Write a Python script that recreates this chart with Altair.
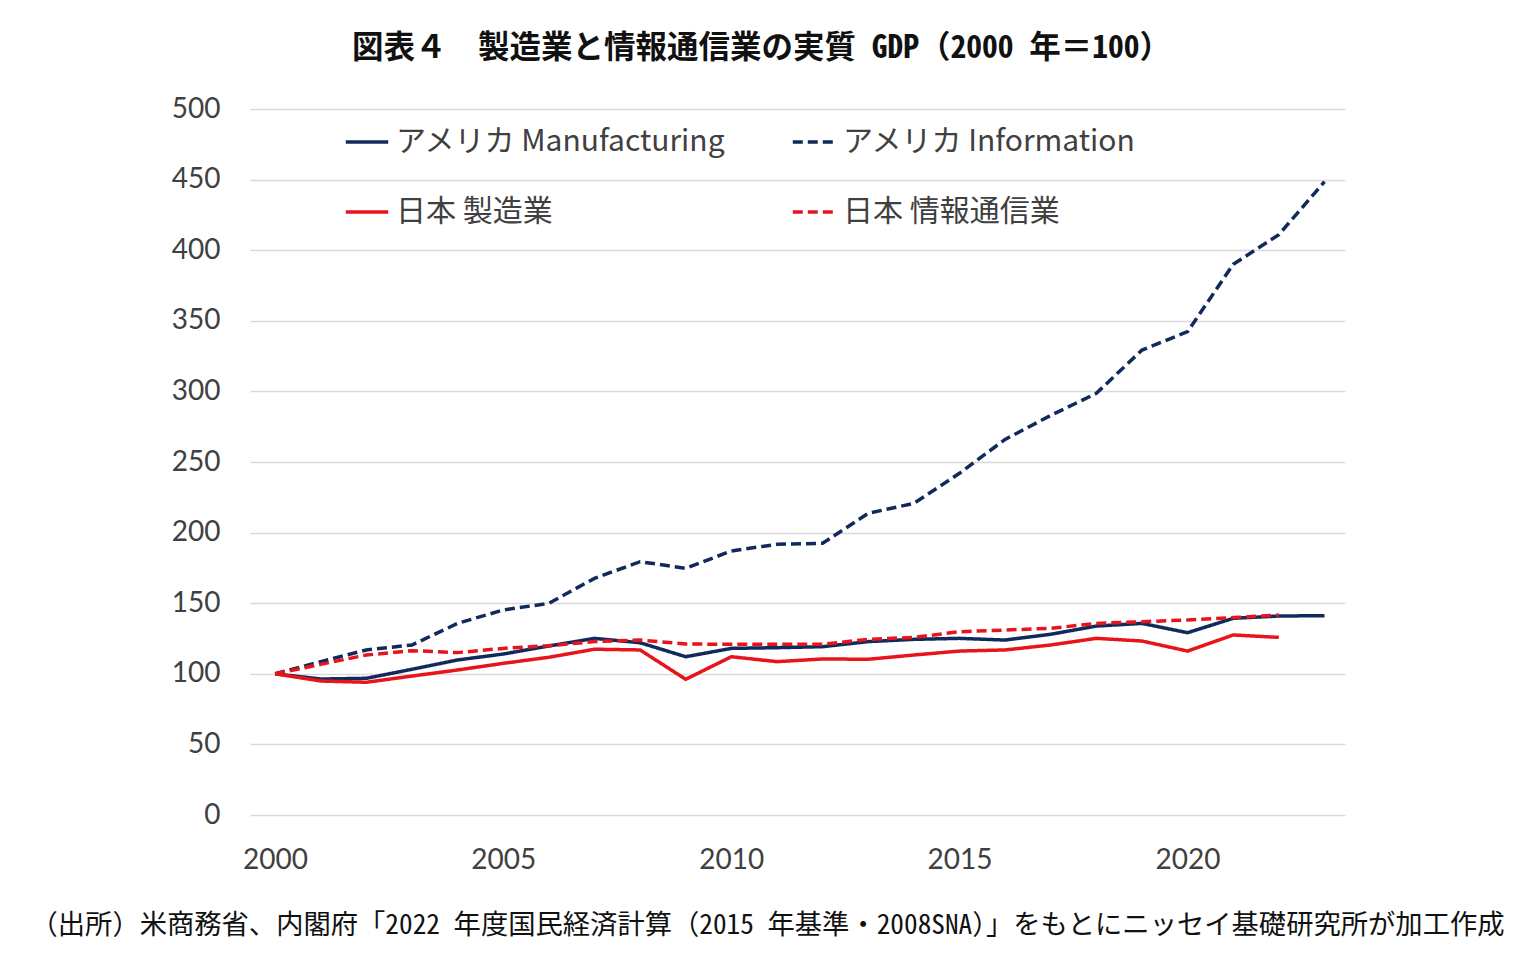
import altair as alt
import pandas as pd

# values (2000 = 100)
years = list(range(2000, 2024))
us_mfg = [100, 96.3, 96.8, 103.2, 109.8, 114.0, 119.7, 125.1, 122.0, 112.1, 118.0, 118.5,
          119.2, 122.8, 124.4, 125.1, 123.9, 128.0, 133.8, 135.7, 129.1, 139.3, 140.9, 141.2]
us_info = [100, 108.6, 116.9, 120.4, 135.7, 145.2, 149.9, 167.6, 179.4, 174.7, 187.0, 191.7,
           192.4, 213.7, 220.7, 242.0, 266.0, 283.0, 298.6, 329.3, 342.3, 390.0, 411.0, 448.5]
jp_mfg = [100, 94.9, 94.0, 98.4, 102.7, 107.4, 111.7, 117.4, 116.9, 96.1, 112.1, 108.6,
          110.5, 110.3, 113.3, 116.1, 116.9, 120.4, 125.1, 123.2, 116.1, 127.5, 125.8]
jp_info = [100, 106.7, 113.3, 116.4, 115.0, 118.0, 119.9, 122.8, 123.9, 121.1, 120.9, 120.9,
           120.9, 124.4, 125.8, 129.8, 131.0, 132.2, 135.7, 136.9, 138.1, 139.8, 141.6]

series = ['アメリカ Manufacturing', 'アメリカ  Information', '日本 製造業', '日本 情報通信業']
colors = ['#112a5c', '#112a5c', '#e8141b', '#e8141b']
dashes = [[1, 0], [10, 5], [1, 0], [10, 5]]

rows = []
for name, vals in zip(series, [us_mfg, us_info, jp_mfg, jp_info]):
    for i, v in enumerate(vals):
        rows.append({'year': years[i], 'value': v, 'series': name, 'order': series.index(name)})
df = pd.DataFrame(rows)

title_text = '図表４　製造業と情報通信業の実質 GDP（2000 年＝100）'
source_text = '（出所）米商務省、内閣府「2022 年度国民経済計算（2015 年基準・2008SNA）」をもとにニッセイ基礎研究所が加工作成'
mono_font = "'Noto Sans Mono CJK JP', 'Noto Sans CJK JP'"


def make_legend():
    return alt.Legend(title=None, orient='none', legendX=94, legendY=10,
                      direction='horizontal', columns=2, columnPadding=58, rowPadding=32,
                      symbolType='stroke', symbolStrokeWidth=3.5,
                      symbolSize=1800, labelFontSize=30,
                      labelFont='Noto Sans CJK JP', labelColor='#404040',
                      labelOffset=6, labelLimit=500)


lines = alt.Chart(df).mark_line(strokeWidth=3.5).encode(
    x=alt.X('year:Q',
            scale=alt.Scale(domain=[1999.45, 2023.45], nice=False, zero=False),
            axis=alt.Axis(values=[2000, 2005, 2010, 2015, 2020], format='d', grid=False,
                          labelPadding=31, title=source_text,
                          titleX=-220, titleY=110, titleAlign='left', titleBaseline='middle',
                          titleFontSize=27.3, titleFont=mono_font,
                          titleFontWeight='normal', titleColor='#111111')),
    y=alt.Y('value:Q', scale=alt.Scale(domain=[0, 500], nice=False),
            axis=alt.Axis(values=list(range(0, 501, 50)), title=None, labelPadding=30)),
    color=alt.Color('series:N', sort=series,
                    scale=alt.Scale(domain=series, range=colors),
                    legend=make_legend()),
    strokeDash=alt.StrokeDash('series:N', sort=series,
                              scale=alt.Scale(domain=series, range=dashes),
                              legend=make_legend()),
    order='order:Q'
)

chart = lines.properties(
    width=1095, height=706,
    autosize=alt.AutoSizeParams(type='none'),
    padding={'left': 242, 'top': 101, 'right': 180, 'bottom': 150},
    title=alt.TitleParams(title_text, fontSize=31.5, font=mono_font, fontWeight='bold',
                          anchor='middle', dx=-36, offset=31, color='#111111')
).configure_view(strokeWidth=0
).configure_axis(
    labelFontSize=28, labelFont='Lato', labelColor='#404040',
    domain=False, ticks=False, gridColor='#d9d9d9', gridWidth=1.5
)

chart.save('out.html', embed_options={'renderer': 'svg', 'actions': False})
